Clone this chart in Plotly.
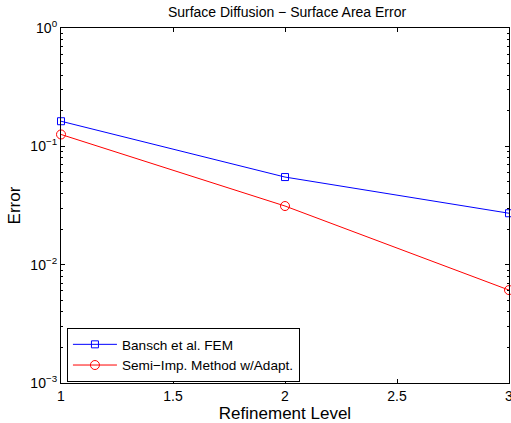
import plotly.graph_objects as go

levels = [1, 2, 3]
bansch_err = [0.163, 0.055, 0.0272]
semi_err = [0.126, 0.0313, 0.0061]
y_tickvals = [1e-3, 1e-2, 1e-1, 1]
y_ticktext = ["10<sup>−3</sup>", "10<sup>−2</sup>", "10<sup>−1</sup>", "10<sup>0</sup>"]
y_minor = [m * 10.0 ** e for e in (-3, -2, -1) for m in range(2, 10)]
x_tickvals = [1, 1.5, 2, 2.5, 3]
x_ticktext = ["1", "1.5", "2", "2.5", "3"]

font = dict(family="Liberation Sans, Arial, sans-serif", size=14, color="black")

fig = go.Figure()
fig.add_trace(go.Scatter(x=levels, y=bansch_err, mode="lines+markers", name="Bansch et al. FEM",
                         line=dict(color="blue", width=1),
                         marker=dict(symbol="square-open", size=7, color="blue", line=dict(width=1)),
                         cliponaxis=False))
fig.add_trace(go.Scatter(x=levels, y=semi_err, mode="lines+markers", name="Semi−Imp. Method w/Adapt.",
                         line=dict(color="red", width=1),
                         marker=dict(symbol="circle-open", size=9, color="red", line=dict(width=1)),
                         cliponaxis=False))

fig.update_layout(
    width=513, height=423,
    margin=dict(l=61, r=0, t=28, b=40),
    paper_bgcolor="white", plot_bgcolor="white",
    font=font,
    hovermode=False,
    title=dict(text="Surface Diffusion − Surface Area Error", x=(61 + 226) / 513, xanchor="center",
               y=1 - 12 / 423, yanchor="middle", font=dict(size=14)),
    showlegend=True,
    legend=dict(x=6 / 452, y=1 / 355, xanchor="left", yanchor="bottom",
                bordercolor="black", borderwidth=1, bgcolor="white",
                font=dict(size=13.6), tracegroupgap=0, itemwidth=44),
    xaxis=dict(range=[1, 3], tickvals=x_tickvals, ticktext=x_ticktext,
               ticks="inside", ticklen=4, tickcolor="black", showline=True, linecolor="black",
               linewidth=1.2, mirror="ticks", showgrid=False, zeroline=False,
               ticklabeloverflow="allow",
               title=dict(text="Refinement Level", standoff=2)),
    yaxis=dict(type="log", range=[-3, 0], tickvals=y_tickvals, ticktext=y_ticktext,
               ticks="inside", ticklen=4, tickcolor="black", showline=True, linecolor="black",
               linewidth=1.2, mirror="ticks", showgrid=False, zeroline=False,
               minor=dict(tickvals=y_minor, ticks="inside", ticklen=2, tickcolor="black", showgrid=False),
               title=dict(text="Error", standoff=5)),
)
fig.write_html(
    "out.html",
    config={"displayModeBar": False},
    post_script="document.body.style.margin='0';document.documentElement.style.overflow='hidden';document.body.style.overflow='hidden';",
)
